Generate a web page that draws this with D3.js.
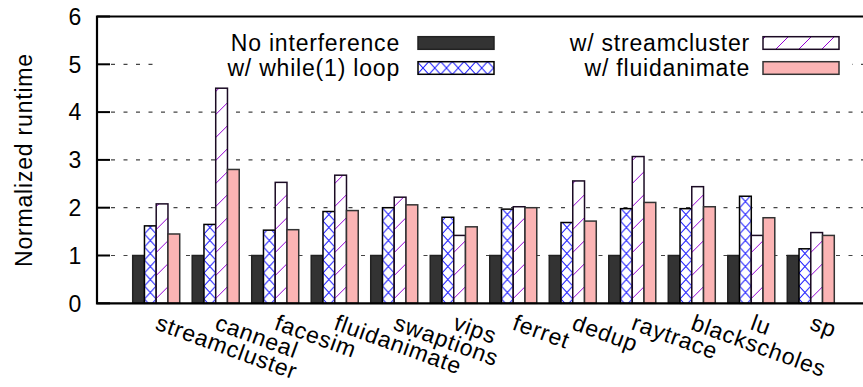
<!DOCTYPE html>
<html>
<head>
<meta charset="utf-8">
<script src="https://cdn.jsdelivr.net/npm/d3@7"></script>
<style>
  body { margin: 0; background: #fff; }
  text { font-family: "Liberation Sans", Arial, sans-serif; font-size: 23px; letter-spacing: 0.8px; fill: #000; }
</style>
</head>
<body>
<div id="chart"></div>
<script>
// the benchmarks on the x axis
var categories = ["streamcluster", "canneal", "facesim", "fluidanimate", "swaptions", "vips",
                  "ferret", "dedup", "raytrace", "blackscholes", "lu", "sp"];

// normalized runtimes per configuration
var noInterference    = [1, 1, 1, 1, 1, 1, 1, 1, 1, 1, 1, 1];
var whileLoop         = [1.62, 1.65, 1.53, 1.92, 2.00, 1.80, 1.97, 1.69, 1.98, 1.98, 2.24, 1.14];
var withStreamcluster = [2.08, 4.50, 2.53, 2.68, 2.22, 1.42, 2.02, 2.56, 3.07, 2.44, 1.42, 1.48];
var withFluidanimate  = [1.45, 2.80, 1.54, 1.94, 2.06, 1.60, 2.00, 1.72, 2.11, 2.02, 1.79, 1.42];

var seriesNames = ["No interference", "w/ while(1) loop", "w/ streamcluster", "w/ fluidanimate"];
var yTicks = [0, 1, 2, 3, 4, 5, 6];

var width = 863, height = 387;
var margin = {top: 16.5, left: 97, bottom: 303.3};

var svg = d3.select("#chart")
            .append("svg")
            .attr("width", width)
            .attr("height", height);

var defs = svg.append("defs");

// blue crosshatch
var cross = defs.append("pattern")
                .attr("id", "cross")
                .attr("patternUnits", "userSpaceOnUse")
                .attr("width", 11.75).attr("height", 13);
cross.append("rect").attr("width", 11.75).attr("height", 13).attr("fill", "#fff");
cross.append("path")
     .attr("d", "M0,0L11.75,13M0,13L11.75,0")
     .attr("stroke", "#1a1aff").attr("stroke-width", 1);

// purple diagonal lines
var diag = defs.append("pattern")
               .attr("id", "diag")
               .attr("patternUnits", "userSpaceOnUse")
               .attr("width", 23).attr("height", 23);
diag.append("rect").attr("width", 23).attr("height", 23).attr("fill", "#fff");
diag.append("path")
    .attr("d", "M0,23L23,0M-3,3L3,-3M20,26L26,20")
    .attr("stroke", "#9400d3").attr("stroke-width", 1);

var fills = ["#333333", "url(#cross)", "url(#diag)", "#fbb4b4"];
var strokes = ["#222", "#000", "#1b0b24", "#333"];
var values = [noInterference, whileLoop, withStreamcluster, withFluidanimate];

var xScale = d3.scaleBand()
               .domain(categories)
               .range([margin.left, 870])
               .paddingInner(0.21)
               .paddingOuter(0.6);

var inner = d3.scaleBand()
              .domain(d3.range(seriesNames.length))
              .range([0, xScale.bandwidth()]);

var yScale = d3.scaleLinear().domain([0, 6]).range([margin.bottom, margin.top]);

// dashed grid lines
svg.selectAll(".grid")
   .data(yTicks.filter(function(d){ return d > 0 && d < 6; }))
   .enter().append("line")
   .attr("class", "grid")
   .attr("x1", margin.left + 14).attr("x2", width)
   .attr("y1", function(d){ return yScale(d); })
   .attr("y2", function(d){ return yScale(d); })
   .attr("stroke", "#444")
   .attr("stroke-width", 1.2)
   .attr("stroke-dasharray", "4,8.5");

// bars, one group per benchmark
var groups = svg.selectAll(".group")
                .data(categories)
                .enter().append("g")
                .attr("class", "group")
                .attr("transform", function(d){ return "translate(" + xScale(d) + ",0)"; });

groups.selectAll("rect")
      .data(function(d, i){ return values.map(function(s, j){ return {s: j, v: s[i]}; }); })
      .enter().append("rect")
      .attr("x", function(d){ return inner(d.s); })
      .attr("width", inner.bandwidth())
      .attr("y", function(d){ return yScale(d.v); })
      .attr("height", function(d){ return yScale(0) - yScale(d.v); })
      .attr("fill", function(d){ return fills[d.s]; })
      .attr("stroke", function(d){ return strokes[d.s]; })
      .attr("stroke-width", 1.5);

// legend with white background
svg.append("rect")
   .attr("x", 155).attr("y", 27)
   .attr("width", 697).attr("height", 55)
   .attr("fill", "#fff");

var legendCols = [{text: 400, box: 418}, {text: 750, box: 763}];
var legendRows = [43, 68];

var legend = svg.selectAll(".legend")
                .data(seriesNames)
                .enter().append("g")
                .attr("class", "legend")
                .attr("transform", function(d, i){
                    var col = legendCols[Math.floor(i / 2)];
                    return "translate(0," + legendRows[i % 2] + ")";
                });

legend.append("text")
      .attr("x", function(d, i){ return legendCols[Math.floor(i / 2)].text; })
      .attr("dy", "0.35em")
      .attr("text-anchor", "end")
      .text(function(d){ return d; });

legend.append("rect")
      .attr("x", function(d, i){ return legendCols[Math.floor(i / 2)].box; })
      .attr("y", -6.3)
      .attr("width", 76).attr("height", 12.6)
      .attr("fill", function(d, i){ return fills[i]; })
      .attr("stroke", function(d, i){ return strokes[i]; })
      .attr("stroke-width", 1.5);

// y axis ticks and labels
svg.selectAll(".ytick")
   .data(yTicks)
   .enter().append("line")
   .attr("class", "ytick")
   .attr("x1", margin.left).attr("x2", margin.left + 13)
   .attr("y1", function(d){ return yScale(d); })
   .attr("y2", function(d){ return yScale(d); })
   .attr("stroke", "#000").attr("stroke-width", 2);

svg.selectAll(".ylabel")
   .data(yTicks)
   .enter().append("text")
   .attr("class", "ylabel")
   .attr("x", 82)
   .attr("y", function(d){ return yScale(d); })
   .attr("dy", "0.36em")
   .attr("text-anchor", "end")
   .text(function(d){ return d; });

// border: left, top, bottom
svg.append("path")
   .attr("d", "M" + width + "," + margin.top + "H" + margin.left + "V" + margin.bottom + "H" + width)
   .attr("fill", "none")
   .attr("stroke", "#000")
   .attr("stroke-width", 2.2);

// rotated benchmark names
svg.selectAll(".xlabel")
   .data(categories)
   .enter().append("text")
   .attr("class", "xlabel")
   .attr("transform", function(d){
       var x = xScale(d) + xScale.bandwidth() / 2 - 2;
       return "translate(" + x + ",329) rotate(20)";
   })
   .text(function(d){ return d; });

// y axis title
svg.append("text")
   .attr("transform", "translate(32,160) rotate(-90)")
   .attr("text-anchor", "middle")
   .text("Normalized runtime");
</script>
</body>
</html>
